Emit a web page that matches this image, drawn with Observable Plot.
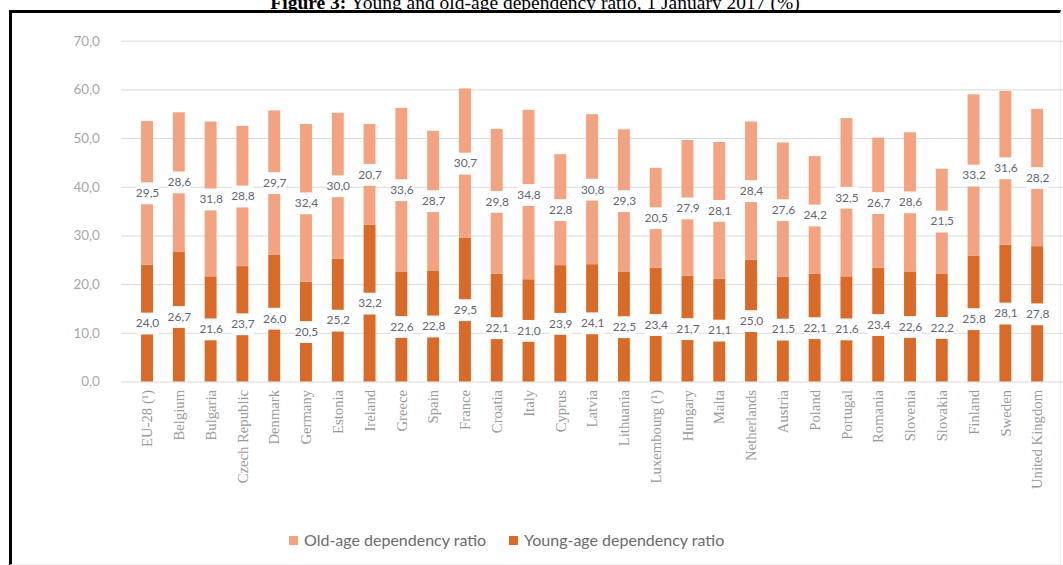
<!DOCTYPE html>
<html>
<head>
<meta charset="utf-8">
<script src="https://cdn.jsdelivr.net/npm/d3@7"></script>
<script src="https://cdn.jsdelivr.net/npm/@observablehq/plot@0.6"></script>
<style>
  html, body { margin: 0; padding: 0; background: #fff; }
  body { width: 1063px; height: 565px; position: relative; overflow: hidden; }
  #title { position: absolute; top: -7px; left: 0; width: 1070px; text-align: center;
    font-family: "Liberation Serif", "DejaVu Serif", serif; font-size: 19.5px; line-height: 19px; color: #000; white-space: nowrap; }
  #frame { position: absolute; left: 9px; top: 10px; width: 1048px; height: 551px;
    border-top: 3px solid #000; border-left: 3px solid #000; border-right: 1px solid #eee; border-bottom: 1px solid #eee; }
  #chart { position: absolute; left: 0; top: 0; width: 1063px; overflow: hidden; }
  #legend { position: absolute; top: 530px; left: 0; width: 1063px; height: 20px;
    font-family: Lato, "Open Sans", sans-serif; font-size: 16px; color: #6a6a6a; }
  .item { position: absolute; top: 0; white-space: nowrap; line-height: 20px; }
  .sw { display: inline-block; width: 9px; height: 9px; margin-right: 6px; vertical-align: 1px; }
</style>
</head>
<body>
<div id="title"><b>Figure 3:</b> Young and old-age dependency ratio, 1 January 2017 (%)</div>
<div id="frame"></div>
<div id="chart"></div>
<div id="legend"></div>
<script>
const countries = ["EU-28 (¹)", "Belgium", "Bulgaria", "Czech Republic", "Denmark", "Germany", "Estonia", "Ireland", "Greece", "Spain", "France", "Croatia", "Italy", "Cyprus", "Latvia", "Lithuania", "Luxembourg (¹)", "Hungary", "Malta", "Netherlands", "Austria", "Poland", "Portugal", "Romania", "Slovenia", "Slovakia", "Finland", "Sweden", "United Kingdom"];
const youngAge = [24.0, 26.7, 21.6, 23.7, 26.0, 20.5, 25.2, 32.2, 22.6, 22.8, 29.5, 22.1, 21.0, 23.9, 24.1, 22.5, 23.4, 21.7, 21.1, 25.0, 21.5, 22.1, 21.6, 23.4, 22.6, 22.2, 25.8, 28.1, 27.8];
const oldAge = [29.5, 28.6, 31.8, 28.8, 29.7, 32.4, 30.0, 20.7, 33.6, 28.7, 30.7, 29.8, 34.8, 22.8, 30.8, 29.3, 20.5, 27.9, 28.1, 28.4, 27.6, 24.2, 32.5, 26.7, 28.6, 21.5, 33.2, 31.6, 28.2];
const seriesNames = ["Old-age dependency ratio", "Young-age dependency ratio"];
const seriesColors = ["#F4A380", "#DA6A28"];
const yTicks = [0, 10, 20, 30, 40, 50, 60, 70];

const rows = [
  ...countries.map((c, i) => ({country: c, series: seriesNames[1], value: youngAge[i]})),
  ...countries.map((c, i) => ({country: c, series: seriesNames[0], value: oldAge[i]}))
];
const fmt = d => d.toFixed(1).replace(".", ",");
const stackOrder = [seriesNames[1], seriesNames[0]];

const chart = Plot.plot({
  width: 1070,
  height: 500,
  marginLeft: 122,
  marginRight: 0,
  marginTop: 41,
  marginBottom: 116,
  style: {background: "transparent"},
  x: {domain: countries, paddingInner: 0.63, paddingOuter: 0.315, label: null},
  y: {domain: [0, 70], label: null},
  color: {domain: seriesNames, range: seriesColors},
  marks: [
    Plot.gridY(yTicks, {stroke: "#D9D9D9", strokeOpacity: 1, strokeWidth: 1}),
    Plot.axisY(yTicks, {tickSize: 0, tickPadding: 22, tickFormat: fmt, label: null,
      fontFamily: "Lato, 'Open Sans', sans-serif", fontSize: 13.5, fill: "#A6A6A6"}),
    Plot.axisX({tickSize: 0, tickPadding: 8, tickRotate: -90, label: null,
      fontFamily: "'Liberation Serif', serif", fontSize: 14.8, fill: "#9A9A9A"}),
    Plot.barY(rows, Plot.stackY({x: "country", y: "value", z: "series", fill: "series", order: stackOrder})),
    Plot.dot(rows, Plot.stackY({x: "country", y: "value", z: "series", order: stackOrder,
      symbol: "square", r: 12.4, fill: "white", stroke: null})),
    Plot.text(rows, Plot.stackY({x: "country", y: "value", z: "series", order: stackOrder,
      text: d => fmt(d.value), fill: "#5E6670",
      fontFamily: "Lato, 'Open Sans', sans-serif", fontSize: 12}))
  ]
});
document.getElementById("chart").appendChild(chart);

const legend = document.getElementById("legend");
const positions = [289, 509];
seriesNames.forEach((name, i) => {
  const item = document.createElement("div");
  item.className = "item";
  item.style.left = positions[i] + "px";
  item.innerHTML = `<span class="sw" style="background:${seriesColors[i]}"></span>${name}`;
  legend.appendChild(item);
});
</script>
</body>
</html>
